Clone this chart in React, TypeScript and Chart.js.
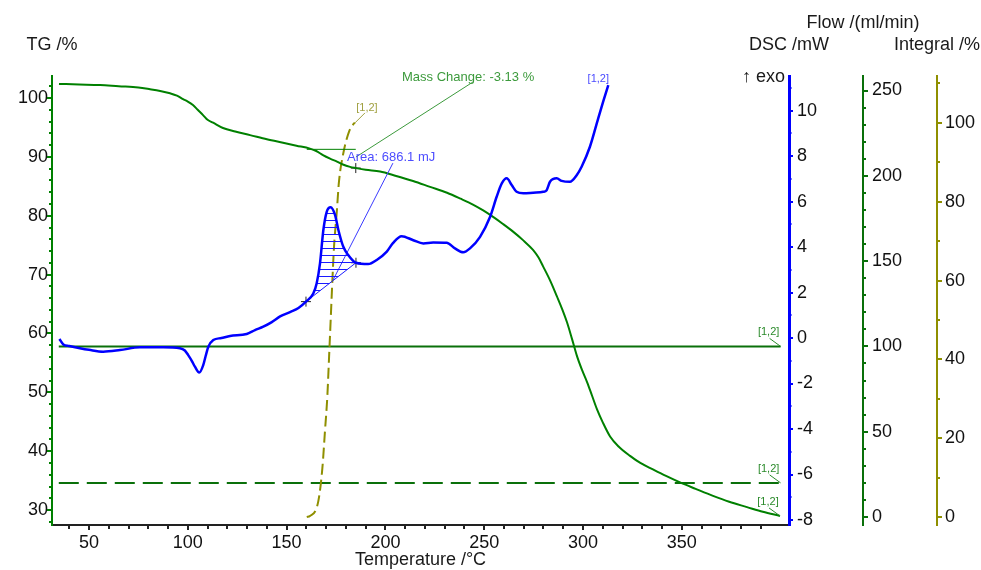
import React, { useEffect, useRef } from 'react';
import { Chart, registerables } from 'chart.js';

Chart.register(...registerables);

const FONT = 'Arial, "Liberation Sans", Helvetica, sans-serif';

// ---- axis ranges ----
const TEMP_MIN = 31.27;
const TEMP_MAX = 404.25;
const TG_MIN = 27.46;
const TG_MAX = 103.74;
const DSC_MIN = -8.22;
const DSC_MAX = 11.52;
const FLOW_MIN = -4.69;
const FLOW_MAX = 258.5;
const INT_MIN = -2.03;
const INT_MAX = 111.9;

// ---- tick labels ----
const X_LABELS = [50, 100, 150, 200, 250, 300, 350];
const TG_LABELS = [30, 40, 50, 60, 70, 80, 90, 100];
const DSC_LABELS = [-8, -6, -4, -2, 0, 2, 4, 6, 8, 10];
const FLOW_LABELS = [0, 50, 100, 150, 200, 250];
const INT_LABELS = [0, 20, 40, 60, 80, 100];

// ---- TG curve ----
const TG_T = [34.8, 45, 55.6, 65, 75, 80.9, 86, 91, 94.5, 97.6, 100, 102.6, 105, 107.7, 110, 112.8, 117.8, 124, 131.5, 140, 148.2, 155, 161.8, 165, 168.4, 172, 175.5, 178.5, 182.1, 185, 190, 197.3, 205, 214, 222.6, 231.2, 238, 244.3, 249.5, 254.5, 259.5, 264.6, 269.5, 274.7, 277.5, 279.8, 283.5, 286.8, 289.5, 291.9, 294.5, 297, 299.5, 302.1, 304.5, 307.1, 310, 313.7, 318, 323.8, 329, 335.4, 342, 349.1, 357, 365.8, 374, 383, 391, 399.7];
const TG_V = [102.4, 102.3, 102.2, 102.0, 101.8, 101.5, 101.2, 100.8, 100.4, 99.8, 99.4, 98.8, 98.0, 97.1, 96.3, 95.8, 94.9, 94.3, 93.7, 93.0, 92.4, 91.9, 91.4, 91.0, 90.3, 89.7, 89.2, 88.7, 88.3, 88.1, 87.8, 87.5, 86.8, 85.9, 84.9, 83.9, 82.9, 81.9, 80.9, 79.8, 78.6, 77.3, 75.9, 74.2, 72.9, 71.4, 68.9, 66.3, 64.1, 61.9, 59.0, 56.1, 53.8, 51.7, 49.5, 47.1, 44.9, 42.5, 40.8, 39.2, 38.0, 36.9, 35.8, 34.7, 33.6, 32.4, 31.4, 30.5, 29.7, 29.0];

// ---- DSC curve ----
const DSC_T = [35.0, 37.0, 40.0, 45.4, 50.0, 57.2, 65.7, 75.8, 87.5, 96.0, 98.5, 100.2, 102.0, 103.6, 105.8, 107.8, 109.0, 110.4, 112.9, 117.0, 121.4, 129.8, 134.0, 138.2, 142.5, 146.7, 152.0, 156.0, 159.8, 163.5, 165.2, 166.9, 168.6, 170.3, 172.3, 174.5, 176.2, 178.7, 181.2, 185.1, 191.3, 195.6, 200.7, 203.8, 208.2, 214.1, 219.2, 224.2, 231.0, 235.2, 239.4, 242.8, 247.9, 253.0, 256.3, 258.9, 261.4, 263.9, 266.4, 269.8, 274.8, 279.9, 281.6, 283.3, 286.7, 289.2, 293.4, 296.8, 299.3, 303.5, 307.7, 310.2, 312.8];
const DSC_V = [-0.04, -0.28, -0.35, -0.45, -0.52, -0.60, -0.53, -0.41, -0.41, -0.45, -0.55, -0.75, -1.00, -1.26, -1.52, -1.19, -0.80, -0.38, -0.09, 0.00, 0.09, 0.18, 0.35, 0.50, 0.70, 0.95, 1.15, 1.32, 1.60, 1.96, 2.40, 3.28, 4.75, 5.55, 5.75, 5.41, 4.75, 4.01, 3.65, 3.31, 3.25, 3.43, 3.80, 4.17, 4.48, 4.30, 4.16, 4.20, 4.19, 3.94, 3.77, 3.94, 4.45, 5.33, 6.21, 6.80, 7.02, 6.73, 6.43, 6.36, 6.39, 6.43, 6.50, 6.87, 7.02, 6.91, 6.87, 7.16, 7.53, 8.41, 9.66, 10.39, 11.12];

// ---- Integral curve ----
const INT_T = [160.2, 161.8, 166.0, 168.1, 169.4, 170.6, 171.5, 172.3, 173.1, 174.0, 175.4, 176.5, 178.7, 181.6, 183.8, 184.6];
const INT_V = [0.0, 0.25, 3.9, 12.4, 21.7, 30.5, 40.7, 50.0, 59.3, 68.6, 77.5, 85.1, 92.3, 97.8, 99.7, 100.0];

// ---- Flow ----
const FLOW_T = [34.7, 400];
const FLOW_HIGH = [100, 100];
const FLOW_LOW = [20, 20];

// ---- Peak area annotation ----
const PEAK_BASE_T = [159.8, 185.1];
const PEAK_BASE_V = [1.6, 3.31];
const AREA_LEADER_T = [173.5, 203.8];
const AREA_LEADER_V = [2.55, 7.69];
const AREA_TEXT = 'Area: 686.1 mJ';
const AREA_TEXT_POS = [180.6, 7.96];

// ---- Mass change annotation ----
const MASS_STEP_T = [160.2, 185.0];
const MASS_STEP_V = [91.28, 91.28];
const MASS_CROSS_T = [185.0];
const MASS_CROSS_V = [88.1];
const MASS_LEADER_T = [185.1, 244.3];
const MASS_LEADER_V = [89.98, 102.72];
const MASS_TEXT = 'Mass Change: -3.13 %';
const MASS_TEXT_POS = [208.4, 103.57];

const zip = (xs: number[], ys: number[]) => xs.map((x, i) => ({ x, y: ys[i] }));
const isIn = (list: number[], v: number) => list.some((m) => Math.abs(m - v) < 1e-6);

const GREEN = '#008000';
const FLOW_GREEN = '#0a700a';
const BLUE = '#0000ff';
const OLIVE = '#8f8f00';

const decorPlugin = {
  id: 'decor',
  afterDraw(chart: any) {
    const ctx = chart.ctx as CanvasRenderingContext2D;
    const { x, yTG, yDSC, yFlow, yInt } = chart.scales;
    ctx.save();

    const drawTicks = (scale: any, side: string, color: string, majors: number[], majorLen: number, minorLen: number, maxV = Infinity) => {
      ctx.strokeStyle = color;
      ctx.lineWidth = 2;
      for (const t of scale.ticks) {
        const v = t.value;
        if (v > maxV) continue;
        const len = isIn(majors, v) ? majorLen : minorLen;
        const p = Math.round(scale.getPixelForValue(v));
        ctx.beginPath();
        if (side === 'bottom') {
          ctx.moveTo(p, scale.top);
          ctx.lineTo(p, scale.top + len);
        } else if (side === 'left') {
          ctx.moveTo(scale.right, p);
          ctx.lineTo(scale.right - len, p);
        } else {
          ctx.moveTo(scale.left, p);
          ctx.lineTo(scale.left + len, p);
        }
        ctx.stroke();
      }
    };
    drawTicks(x, 'bottom', '#222', X_LABELS, 5, 4, 395);
    drawTicks(yTG, 'left', GREEN, TG_LABELS, 5, 3);
    drawTicks(yDSC, 'right', BLUE, DSC_LABELS, 4, 2.5);
    drawTicks(yFlow, 'right', FLOW_GREEN, FLOW_LABELS, 5, 3);
    drawTicks(yInt, 'right', OLIVE, INT_LABELS, 5, 3);

    // axis titles
    ctx.fillStyle = '#1a1a1a';
    ctx.font = `18px ${FONT}`;
    ctx.textBaseline = 'middle';
    ctx.textAlign = 'center';
    ctx.fillText('TG /%', yTG.right, 45);
    ctx.fillText('DSC /mW', yDSC.left, 45);
    ctx.fillText('Flow /(ml/min)', yFlow.left, 23);
    ctx.fillText('Integral /%', yInt.left, 45);
    ctx.fillText('Temperature /°C', (chart.chartArea.left + chart.chartArea.right) / 2, 560);
    ctx.textAlign = 'right';
    ctx.fillText('\u2191 exo', yDSC.left - 4, 77);

    // annotation texts
    ctx.font = `13px ${FONT}`;
    ctx.textAlign = 'left';
    ctx.fillStyle = '#3c9a3c';
    ctx.fillText(MASS_TEXT, x.getPixelForValue(MASS_TEXT_POS[0]), yTG.getPixelForValue(MASS_TEXT_POS[1]));
    ctx.fillStyle = '#4d4dff';
    ctx.fillText(AREA_TEXT, x.getPixelForValue(AREA_TEXT_POS[0]), yDSC.getPixelForValue(AREA_TEXT_POS[1]));

    // [1,2] tags at the curve ends
    const tag = (px: number, py: number, dx: number, dy: number, lx: number | null, ly: number, color: string) => {
      ctx.font = `11px ${FONT}`;
      ctx.textAlign = 'center';
      ctx.textBaseline = 'middle';
      ctx.fillStyle = color;
      ctx.fillText('[1,2]', px + dx, py + dy);
      if (lx !== null) {
        ctx.strokeStyle = color;
        ctx.lineWidth = 1;
        ctx.beginPath();
        ctx.moveTo(px + lx, py + ly);
        ctx.lineTo(px, py);
        ctx.stroke();
      }
    };
    const last = (a: number[]) => a[a.length - 1];
    tag(x.getPixelForValue(last(FLOW_T)), yFlow.getPixelForValue(last(FLOW_HIGH)), -12, -14, -11, -8, '#2a8a2a');
    tag(x.getPixelForValue(last(FLOW_T)), yFlow.getPixelForValue(last(FLOW_LOW)), -12, -14, -11, -8, '#2a8a2a');
    tag(x.getPixelForValue(last(TG_T)), yTG.getPixelForValue(last(TG_V)), -12, -14, -11, -8, '#2a8a2a');
    tag(x.getPixelForValue(last(INT_T)), yInt.getPixelForValue(last(INT_V)), 12, -15, 10, -10, '#a0a040');
    tag(x.getPixelForValue(last(DSC_T)), yDSC.getPixelForValue(last(DSC_V)), -10, -6, null, 0, '#4a4aff');

    ctx.restore();
  },
};

function labelCb(list: number[]) {
  return (v: any) => (isIn(list, Number(v)) ? String(Math.round(Number(v))) : '');
}

function yAxis(position: string, min: number, max: number, step: number, list: number[], color: string, width: number, borderWidth: number, padding: number, weight: number) {
  return {
    type: 'linear',
    position,
    min,
    max,
    weight,
    grid: { drawOnChartArea: false, drawTicks: false },
    border: { display: true, color, width: borderWidth },
    ticks: {
      stepSize: step,
      includeBounds: false,
      autoSkip: false,
      padding,
      color: '#111',
      font: { size: 18, family: FONT },
      callback: labelCb(list),
    },
    afterFit: (s: any) => {
      s.width = width;
    },
  };
}

export default function App() {
  const ref = useRef<HTMLCanvasElement>(null);

  useEffect(() => {
    const canvas = ref.current;
    if (!canvas) return;
    const pc = document.createElement('canvas');
    pc.width = 8;
    pc.height = 7;
    const pctx = pc.getContext('2d')!;
    pctx.fillStyle = '#1a1aff';
    pctx.fillRect(0, 3, 8, 1);
    const hatch = canvas.getContext('2d')!.createPattern(pc, 'repeat');

    const dscPts = zip(DSC_T, DSC_V);
    const peakPts = dscPts.filter((p) => p.x >= PEAK_BASE_T[0] && p.x <= PEAK_BASE_T[1]);

    const chart = new Chart(canvas, {
      type: 'line',
      data: {
        datasets: [
          { label: 'DSC', data: dscPts, yAxisID: 'yDSC', borderColor: BLUE, borderWidth: 2.5, pointRadius: 0, cubicInterpolationMode: 'monotone', fill: false },
          { label: 'peak', data: peakPts, yAxisID: 'yDSC', borderColor: 'rgba(0,0,0,0)', borderWidth: 0, pointRadius: 0, fill: 2, backgroundColor: hatch as any, cubicInterpolationMode: 'monotone' },
          { label: 'baseline', data: zip(PEAK_BASE_T, PEAK_BASE_V), yAxisID: 'yDSC', borderColor: '#1a1aff', borderWidth: 1, pointRadius: 5, pointStyle: 'cross', pointBorderColor: '#222', pointBorderWidth: 1, fill: false },
          { label: 'areaLeader', data: zip(AREA_LEADER_T, AREA_LEADER_V), yAxisID: 'yDSC', borderColor: '#3a3aff', borderWidth: 1, pointRadius: 0, fill: false },
          { label: 'TG', data: zip(TG_T, TG_V), yAxisID: 'yTG', borderColor: GREEN, borderWidth: 2, pointRadius: 0, cubicInterpolationMode: 'monotone', fill: false },
          { label: 'massStep', data: zip(MASS_STEP_T, MASS_STEP_V), yAxisID: 'yTG', borderColor: GREEN, borderWidth: 1, pointRadius: 0, fill: false },
          { label: 'massLeader', data: zip(MASS_LEADER_T, MASS_LEADER_V), yAxisID: 'yTG', borderColor: '#3c9a3c', borderWidth: 1, pointRadius: 0, fill: false },
          { label: 'massCross', data: zip(MASS_CROSS_T, MASS_CROSS_V), yAxisID: 'yTG', showLine: false, pointRadius: 5, pointStyle: 'cross', pointBorderColor: '#222', pointBorderWidth: 1, fill: false },
          { label: 'Integral', data: zip(INT_T, INT_V), yAxisID: 'yInt', borderColor: OLIVE, borderWidth: 2, borderDash: [11, 5], pointRadius: 0, cubicInterpolationMode: 'monotone', fill: false },
          { label: 'Flow1', data: zip(FLOW_T, FLOW_HIGH), yAxisID: 'yFlow', borderColor: FLOW_GREEN, borderWidth: 2, pointRadius: 0, fill: false },
          { label: 'Flow2', data: zip(FLOW_T, FLOW_LOW), yAxisID: 'yFlow', borderColor: FLOW_GREEN, borderWidth: 2, borderDash: [20, 8], pointRadius: 0, fill: false },
        ],
      } as any,
      options: {
        animation: false,
        responsive: false,
        events: [],
        layout: { padding: { top: 76, left: 0, right: 0, bottom: 0 } },
        plugins: { legend: { display: false }, tooltip: { enabled: false } },
        scales: {
          x: {
            type: 'linear',
            position: 'bottom',
            min: TEMP_MIN,
            max: TEMP_MAX,
            grid: { drawOnChartArea: false, drawTicks: false },
            border: { display: true, color: '#222', width: 2 },
            ticks: {
              stepSize: 10,
              includeBounds: false,
              autoSkip: false,
              maxRotation: 0,
              padding: 7,
              color: '#111',
              font: { size: 18, family: FONT },
              callback: labelCb(X_LABELS),
            },
            afterFit: (s: any) => {
              s.height = 45;
            },
          },
          yTG: yAxis('left', TG_MIN, TG_MAX, 2, TG_LABELS, GREEN, 52, 2, 4, 0),
          yDSC: yAxis('right', DSC_MIN, DSC_MAX, 1, DSC_LABELS, BLUE, 74, 3, 8, 1),
          yFlow: yAxis('right', FLOW_MIN, FLOW_MAX, 10, FLOW_LABELS, FLOW_GREEN, 74, 2, 9, 2),
          yInt: yAxis('right', INT_MIN, INT_MAX, 10, INT_LABELS, OLIVE, 44, 2, 8, 3),
        },
      } as any,
      plugins: [decorPlugin],
    });
    return () => chart.destroy();
  }, []);

  return (
    <div style={{ position: 'absolute', left: 0, top: 0, width: 981, height: 570, background: '#fff' }}>
      <canvas ref={ref} width={981} height={570} style={{ display: 'block' }} />
    </div>
  );
}
